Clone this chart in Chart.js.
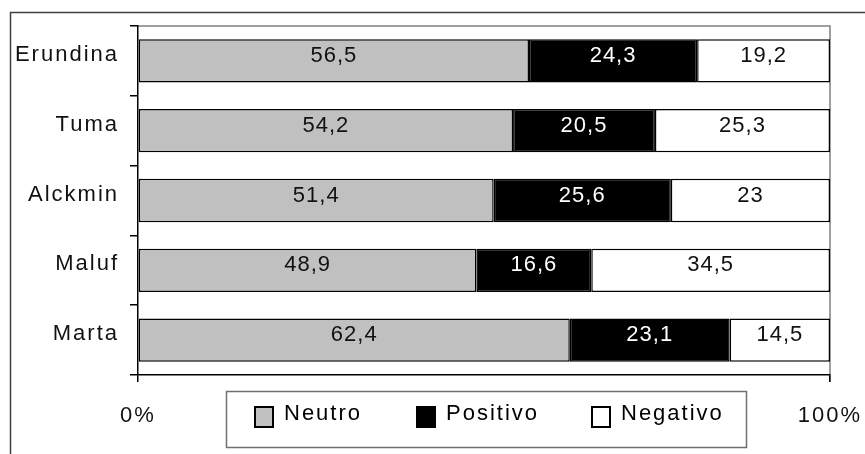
<!DOCTYPE html>
<html>
<head>
<meta charset="utf-8">
<script src="https://cdn.jsdelivr.net/npm/chart.js@4.4.1/dist/chart.umd.min.js"></script>
<style>
  html, body { margin: 0; padding: 0; background: #fff; }
  canvas { display: block; }
</style>
</head>
<body>
<canvas id="c" width="865" height="454"></canvas>
<script>
// Avaliação dos candidatos (%)
const categories = ['Erundina', 'Tuma', 'Alckmin', 'Maluf', 'Marta'];
const neutro   = [56.5, 54.2, 51.4, 48.9, 62.4];
const positivo = [24.3, 20.5, 25.6, 16.6, 23.1];
const negativo = [19.2, 25.3, 23, 34.5, 14.5];
const xTickLabels = ['0%', '100%'];

const FONT = 'Liberation Sans, Arial, sans-serif';
const fmt = v => String(v).replace('.', ',');

// Outer frame around the figure, plus the top/right plot border
const framePlugin = {
  id: 'frame',
  beforeDraw(chart) {
    const ctx = chart.ctx;
    ctx.letterSpacing = '2px';
    ctx.save();
    ctx.strokeStyle = '#404040';
    ctx.lineWidth = 1.5;
    ctx.beginPath();
    ctx.moveTo(10.5, 460);
    ctx.lineTo(10.5, 12.5);
    ctx.lineTo(870, 12.5);
    ctx.stroke();
    const a = chart.chartArea;
    ctx.strokeStyle = '#808080';
    ctx.lineWidth = 1.5;
    ctx.beginPath();
    ctx.moveTo(a.left, a.top);
    ctx.lineTo(a.right, a.top);
    ctx.lineTo(a.right, a.bottom + 7);
    ctx.stroke();
    ctx.restore();
  }
};

// Value labels inside each bar segment
const valueLabels = {
  id: 'valueLabels',
  afterDatasetsDraw(chart) {
    const ctx = chart.ctx;
    ctx.save();
    ctx.letterSpacing = '1px';
    ctx.font = '22px ' + FONT;
    ctx.textAlign = 'center';
    ctx.textBaseline = 'alphabetic';
    chart.data.datasets.forEach((ds, di) => {
      const meta = chart.getDatasetMeta(di);
      meta.data.forEach((bar, i) => {
        const cx = (bar.x + bar.base) / 2;
        ctx.fillStyle = ds.labelColor;
        ctx.fillText(fmt(ds.data[i]), cx, bar.y + 1);
      });
    });
    ctx.restore();
  }
};

// Boxed legend under the plot
const boxLegend = {
  id: 'boxLegend',
  afterDraw(chart) {
    const ctx = chart.ctx;
    ctx.save();
    ctx.letterSpacing = '2px';
    ctx.strokeStyle = '#707070';
    ctx.lineWidth = 1.5;
    ctx.strokeRect(226.5, 391.5, 520, 56);
    const xs = [255, 417, 592];
    ctx.font = '22px ' + FONT;
    ctx.textBaseline = 'alphabetic';
    ctx.textAlign = 'left';
    chart.data.datasets.forEach((ds, i) => {
      ctx.fillStyle = ds.backgroundColor;
      ctx.fillRect(xs[i], 407, 18, 20);
      ctx.strokeStyle = '#000';
      ctx.lineWidth = 2;
      ctx.strokeRect(xs[i], 407, 18, 20);
      ctx.fillStyle = '#000';
      ctx.fillText(ds.label, xs[i] + 29, 420);
    });
    ctx.restore();
  }
};

const common = { borderColor: '#000', borderWidth: 1.5, borderSkipped: false, barPercentage: 0.62, categoryPercentage: 1 };

new Chart(document.getElementById('c'), {
  type: 'bar',
  data: {
    labels: categories,
    datasets: [
      Object.assign({ label: 'Neutro',   data: neutro,   backgroundColor: '#C0C0C0', labelColor: '#111' }, common),
      Object.assign({ label: 'Positivo', data: positivo, backgroundColor: '#000000', labelColor: '#fff' }, common),
      Object.assign({ label: 'Negativo', data: negativo, backgroundColor: '#FFFFFF', labelColor: '#111' }, common)
    ]
  },
  options: {
    indexAxis: 'y',
    responsive: false,
    animation: false,
    layout: { padding: { top: 26, right: 35, left: 0, bottom: 0 } },
    plugins: { legend: { display: false }, tooltip: { enabled: false } },
    scales: {
      x: {
        stacked: true,
        min: 0, max: 100,
        afterFit: s => { s.height = 79; s.paddingLeft = 0; s.paddingRight = 0; },
        afterBuildTicks: s => { s.ticks = [{ value: 0 }, { value: 100 }]; },
        ticks: {
          callback: (v) => xTickLabels[v === 0 ? 0 : 1],
          font: { family: FONT, size: 22 },
          color: '#111',
          padding: 21,
          maxRotation: 0
        },
        grid: { color: '#000', lineWidth: 1.5, tickLength: 7, drawOnChartArea: false },
        border: { color: '#000', width: 1.5 }
      },
      y: {
        stacked: true,
        afterFit: s => { s.width = 138; s.paddingTop = 0; s.paddingBottom = 0; },
        ticks: {
          font: { family: FONT, size: 22 },
          color: '#111',
          padding: 11,
          labelOffset: -6
        },
        grid: { offset: true, drawOnChartArea: false, color: '#000', lineWidth: 1.5, tickLength: 8 },
        border: { color: '#000', width: 1.5 }
      }
    }
  },
  plugins: [framePlugin, valueLabels, boxLegend]
});
</script>
</body>
</html>
